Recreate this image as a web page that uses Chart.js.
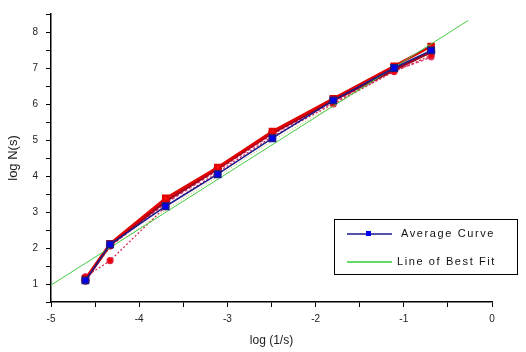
<!DOCTYPE html>
<html>
<head>
<meta charset="utf-8">
<script src="https://cdn.jsdelivr.net/npm/chart.js@4/dist/chart.umd.min.js"></script>
<style>
  html, body { margin: 0; padding: 0; background: #fff; }
  #wrap { width: 526px; height: 352px; }
</style>
</head>
<body>
<div id="wrap"><canvas id="chart" width="526" height="352"></canvas></div>
<script>
// x positions (log 1/s) and the measured curves
const logInvS = [-4.61, -4.33, -3.7, -3.11, -2.49, -1.8, -1.11, -0.69];
const averageCurve = [1.1, 2.1, 3.16, 4.05, 5.05, 6.1, 7.0, 7.49];
const run1 = [1.15, 2.12, 3.38, 4.24, 5.24, 6.15, 7.05, 7.6];
const run2 = [1.2, 1.65, 3.15, 4.1, 5.1, 6.0, 6.9, 7.35];
const run3 = [1.1, 2.08, 3.3, 4.2, 5.2, 6.1, 6.95, 7.45];
const run4 = [1.1, 2.05, 3.24, 4.16, 5.16, 6.04, 6.92, 7.3];
const run5 = [1.1, 2.0, 3.05, 3.98, 4.98, 5.95, 6.95, 7.4];
const fitX = [-5, -0.27];
const fitY = [0.97, 8.32];
const xTickLabels = ['-5', '-4', '-3', '-2', '-1', '0'];
const yTickLabels = ['1', '2', '3', '4', '5', '6', '7', '8'];

function pts(xs, ys) {
    return xs.map((x, i) => ({ x: x, y: ys[i] }));
}

// legend drawn inside the plot, like the original
const boxLegend = {
    id: 'boxLegend',
    afterDraw(chart) {
        const c = chart.ctx;
        c.save();
        c.strokeStyle = '#000';
        c.lineWidth = 1;
        c.strokeRect(334.5, 219.5, 183, 55);
        c.font = '11px Arial, "Liberation Sans", sans-serif';
        c.letterSpacing = '1.6px';
        c.fillStyle = '#111';
        c.textBaseline = 'middle';
        // Average Curve
        c.strokeStyle = '#1a1a8c';
        c.lineWidth = 1.3;
        c.beginPath(); c.moveTo(347, 234); c.lineTo(392, 234); c.stroke();
        c.fillStyle = '#0000ee';
        c.fillRect(366, 231, 5, 5);
        c.fillStyle = '#111';
        c.fillText('Average Curve', 401, 234);
        // Line of Best Fit
        c.strokeStyle = '#33cc33';
        c.beginPath(); c.moveTo(347, 262); c.lineTo(392, 262); c.stroke();
        c.fillText('Line of Best Fit', 397, 262);
        c.restore();
    }
};

const ctx = document.getElementById('chart').getContext('2d');
const chart = new Chart(ctx, {
    type: 'line',
    data: {
        datasets: [
            {
                label: 'Line of Best Fit',
                data: pts(fitX, fitY),
                borderColor: '#44cc44',
                borderWidth: 1,
                pointRadius: 0,
                order: 1
            },
            {
                label: 'Average Curve',
                data: pts(logInvS, averageCurve),
                borderColor: '#1a1a8c',
                backgroundColor: '#0000ee',
                borderWidth: 1.5,
                pointStyle: 'rect',
                pointRadius: 4.5,
                order: 0
            },
            {
                label: 'run 1',
                data: pts(logInvS, run1),
                borderColor: '#e00000',
                backgroundColor: '#ff1010',
                borderWidth: 2.5,
                pointStyle: 'rect',
                pointRadius: 3.5,
                order: 3
            },
            {
                label: 'run 2',
                data: pts(logInvS, run2),
                borderColor: '#dd2244',
                backgroundColor: '#ee0000',
                borderWidth: 1.2,
                borderDash: [2, 2],
                pointRadius: 3,
                order: 4
            },
            {
                label: 'run 3',
                data: pts(logInvS, run3),
                borderColor: '#9b0020',
                backgroundColor: '#cc0000',
                borderWidth: 2.5,
                pointRadius: 3,
                order: 5
            },
            {
                label: 'run 4',
                data: pts(logInvS, run4),
                borderColor: '#e0407a',
                backgroundColor: '#ee2020',
                borderWidth: 1.5,
                borderDash: [3, 2],
                pointRadius: 2.5,
                order: 6
            },
            {
                label: 'run 5',
                data: pts(logInvS, run5),
                borderColor: '#b8b040',
                borderWidth: 1,
                borderDash: [1, 2],
                pointRadius: 0,
                order: 7
            }
        ]
    },
    options: {
        responsive: false,
        animation: false,
        layout: { padding: { top: 6, right: 34, left: 0, bottom: 0 } },
        plugins: {
            legend: { display: false },
            tooltip: { enabled: false }
        },
        scales: {
            x: {
                type: 'linear',
                min: -5,
                max: 0,
                afterFit(scale) { scale.height = 50; },
                border: { color: '#000', width: 1.5 },
                grid: { drawOnChartArea: false, tickLength: 5, color: '#000' },
                ticks: {
                    stepSize: 0.5,
                    color: '#222',
                    font: { size: 10, family: 'Arial, "Liberation Sans", sans-serif' },
                    padding: 6,
                    maxRotation: 0,
                    autoSkip: false,
                    callback: v => Number.isInteger(v) ? xTickLabels[v + 5] : ''
                },
                title: {
                    display: true,
                    text: 'log (1/s)',
                    color: '#222',
                    font: { size: 12, family: 'Arial, "Liberation Sans", sans-serif' },
                    padding: { top: 0, bottom: 4 }
                }
            },
            y: {
                type: 'linear',
                min: 0.5,
                max: 8.5,
                afterFit(scale) { scale.width = 51; },
                afterBuildTicks(scale) {
                    const t = [];
                    for (let v = 0.5; v <= 8.5; v += 0.5) t.push({ value: v });
                    scale.ticks = t;
                },
                border: { color: '#000', width: 1.5 },
                grid: { drawOnChartArea: false, tickLength: 5, color: '#000' },
                ticks: {
                    color: '#222',
                    font: { size: 10, family: 'Arial, "Liberation Sans", sans-serif' },
                    padding: 8,
                    autoSkip: false,
                    callback: v => Number.isInteger(v) && v >= 1 ? yTickLabels[v - 1] : ''
                },
                title: {
                    display: true,
                    text: 'log N(s)',
                    color: '#222',
                    font: { size: 13, family: 'Arial, "Liberation Sans", sans-serif' },
                    padding: { top: 6, bottom: 2 }
                }
            }
        }
    },
    plugins: [boxLegend]
});
</script>
</body>
</html>
